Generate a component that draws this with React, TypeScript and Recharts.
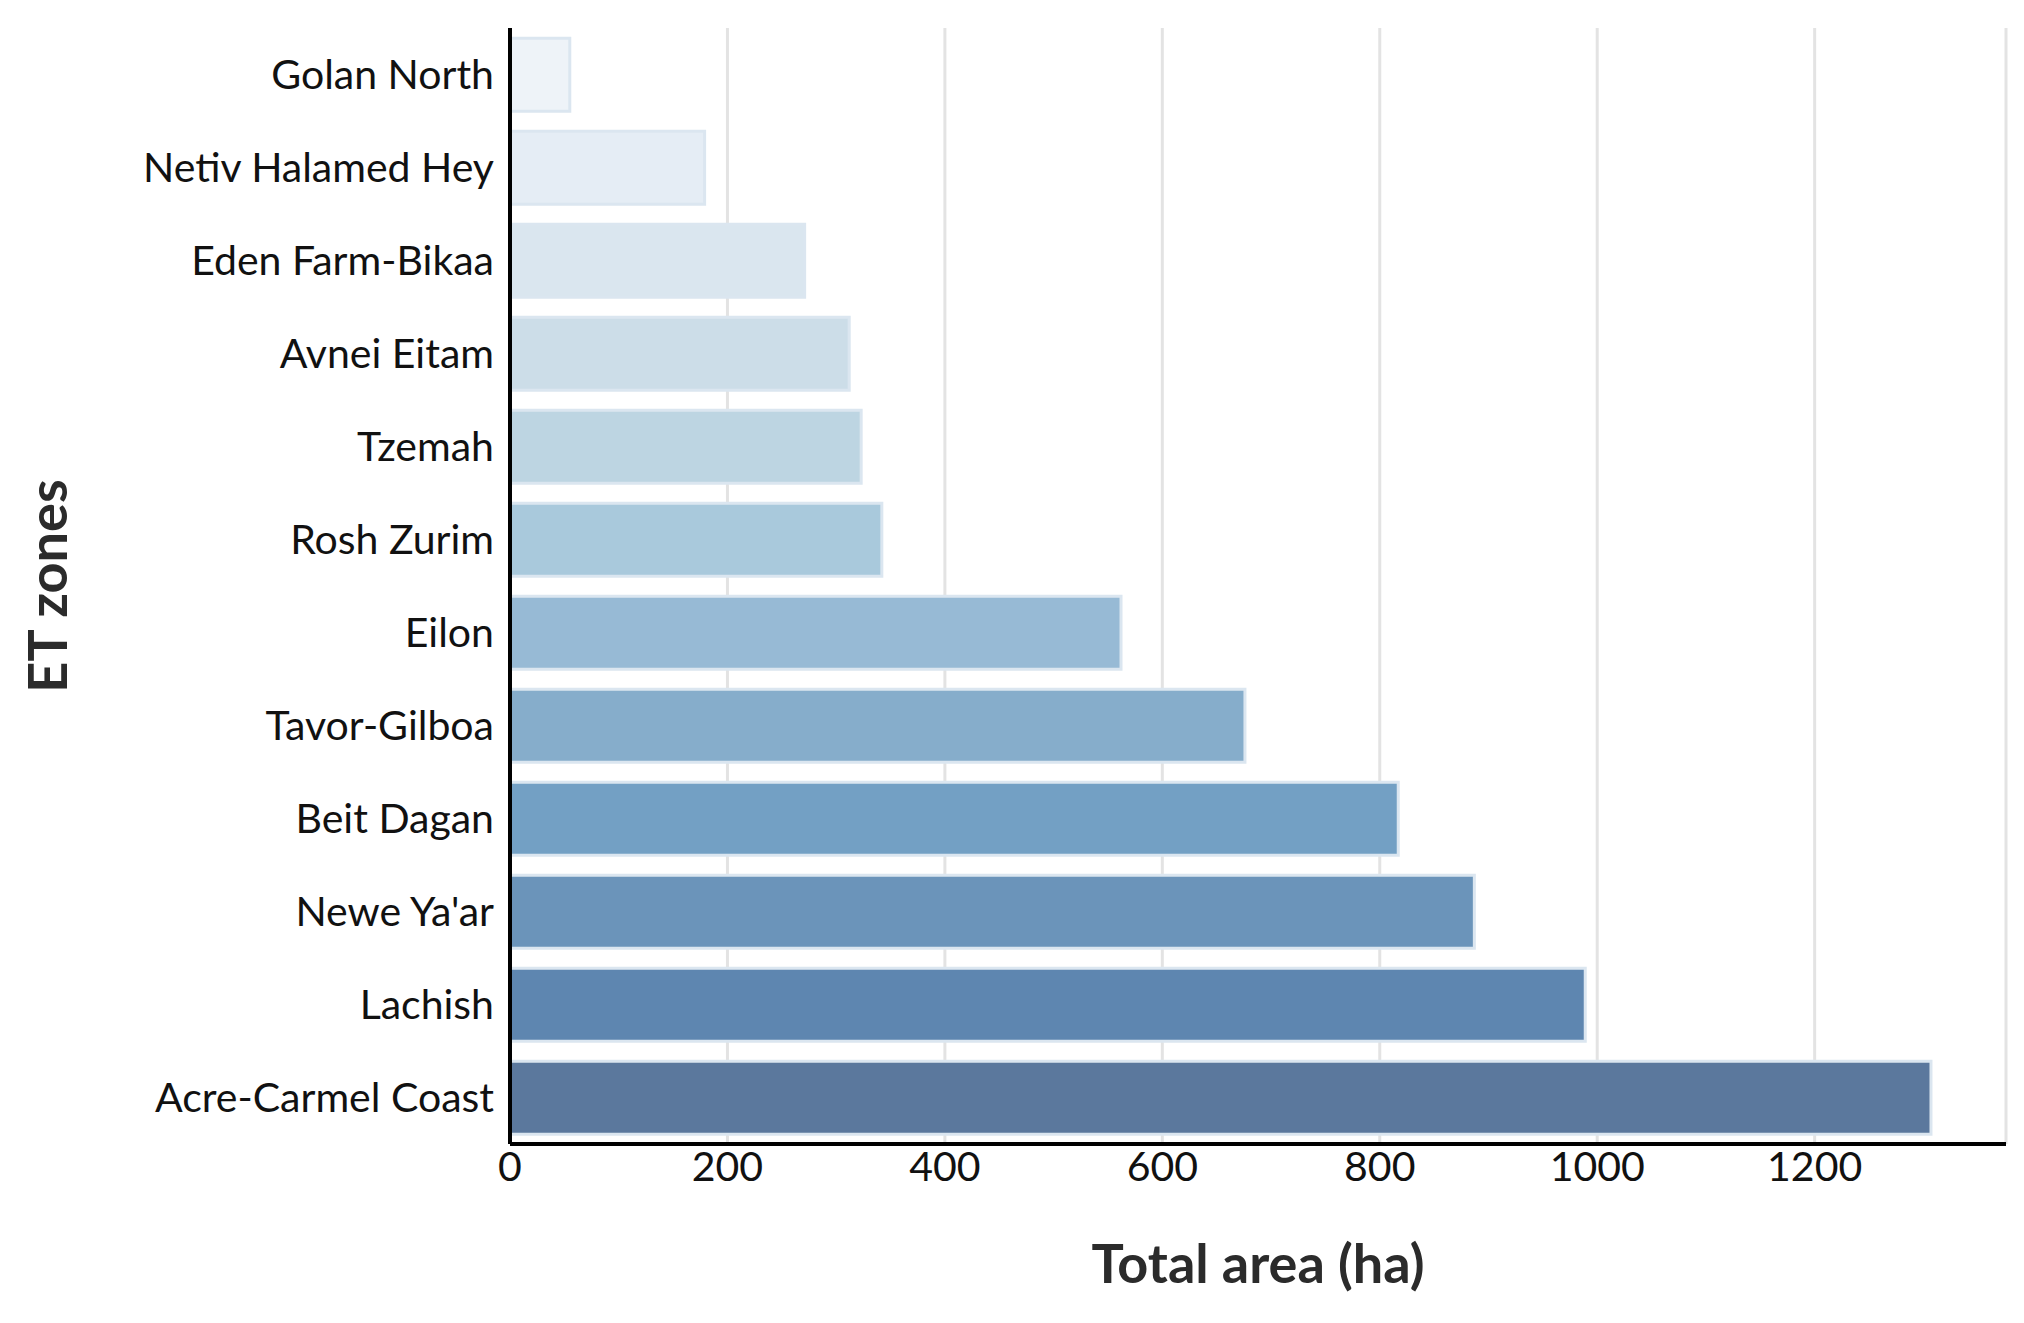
import { BarChart, Bar, XAxis, YAxis, CartesianGrid, Cell } from "recharts";

const zones = [
  "Golan North", "Netiv Halamed Hey", "Eden Farm-Bikaa", "Avnei Eitam", "Tzemah", "Rosh Zurim",
  "Eilon", "Tavor-Gilboa", "Beit Dagan", "Newe Ya'ar", "Lachish", "Acre-Carmel Coast",
];
const areas = [55, 179, 271, 312, 323, 342, 562, 676, 817, 887, 989, 1307];
const colors = [
  "#eef3f8", "#e5edf5", "#dae6ef", "#ccdde8", "#bdd5e2", "#a9c9dc",
  "#97bad5", "#86adcb", "#73a0c4", "#6b94ba", "#5e86b0", "#5b789d",
];
const xTicks = [0, 200, 400, 600, 800, 1000, 1200];

const data = zones.map((zone, i) => ({ zone, area: areas[i] }));

export default function App() {
  return (
    <div style={{ fontFamily: "Lato, 'Open Sans', sans-serif" }}>
      <BarChart
        width={2008}
        height={1307}
        data={data}
        layout="vertical"
        margin={{ top: 20, right: 10, bottom: 0, left: 0 }}
        barCategoryGap="11%"
      >
        <CartesianGrid horizontal={false} stroke="#e3e3e3" strokeWidth={3} />
        <XAxis
          type="number"
          domain={[0, 1376]}
          ticks={xTicks}
          tickLine={false}
          axisLine={{ stroke: "#000", strokeWidth: 4 }}
          tick={{ fill: "#111", fontSize: 41 }}
          height={171}
          label={{ value: "Total area (ha)", position: "insideBottom", offset: 32, fill: "#2b2b2b", fontSize: 54, fontWeight: 700 }}
        />
        <YAxis
          type="category"
          dataKey="zone"
          tickLine={false}
          axisLine={{ stroke: "#000", strokeWidth: 4 }}
          tick={{ fill: "#111", fontSize: 41, dx: -8 }}
          width={502}
          label={{ value: "ET zones", angle: -90, position: "insideLeft", offset: 40, fill: "#2b2b2b", fontSize: 54, fontWeight: 700, style: { textAnchor: "middle" } }}
        />
        <Bar dataKey="area" isAnimationActive={false} stroke="#dbe6f0" strokeWidth={3}>
          {data.map((_, i) => (
            <Cell key={`cell-${i}`} fill={colors[i]} />
          ))}
        </Bar>
      </BarChart>
    </div>
  );
}
